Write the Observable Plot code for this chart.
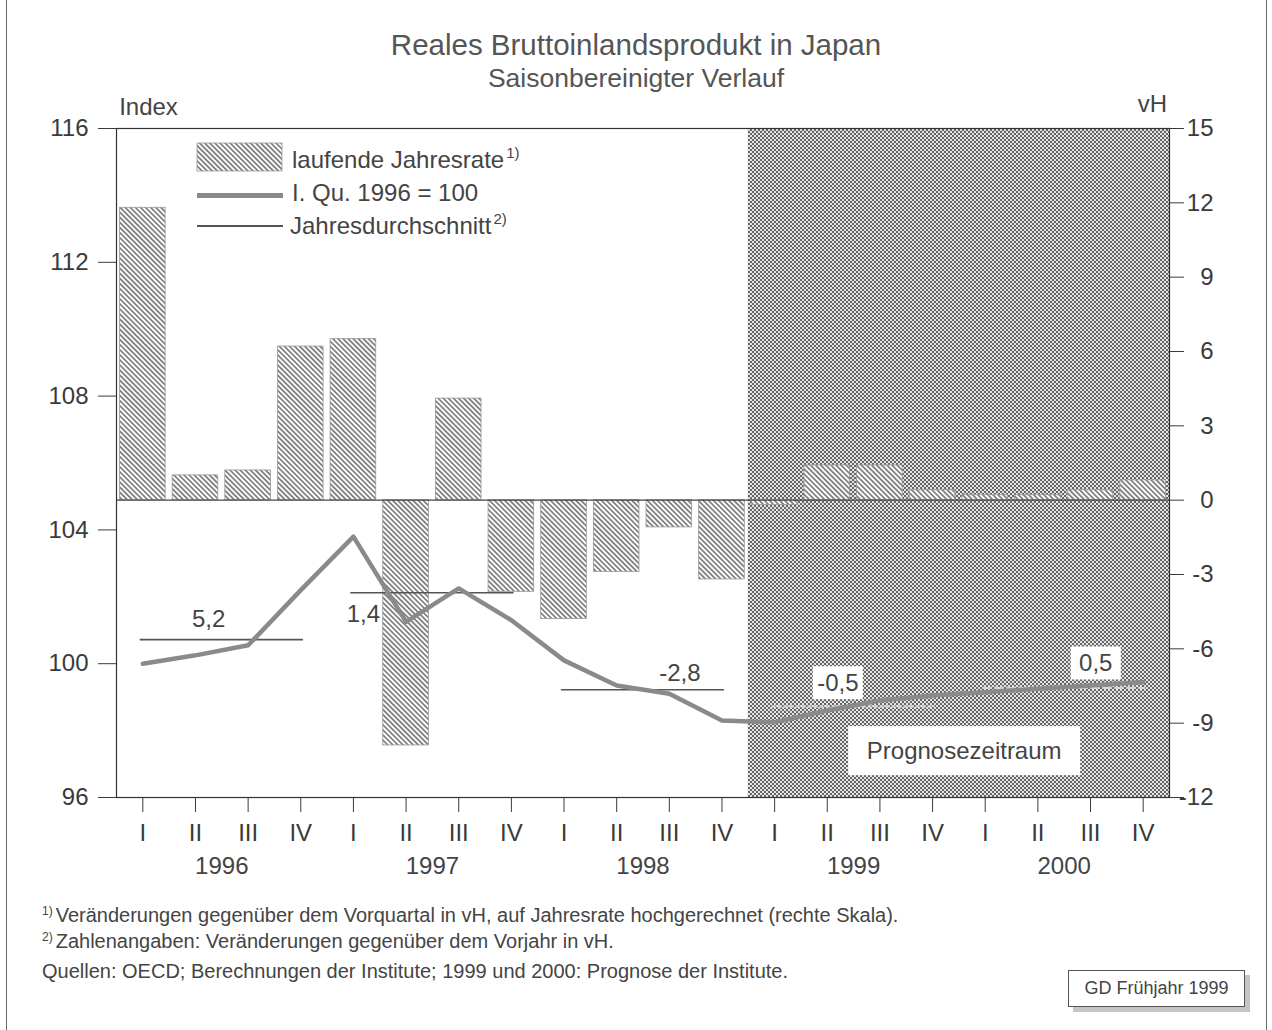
<!DOCTYPE html>
<html><head><meta charset="utf-8">
<script src="https://cdn.jsdelivr.net/npm/d3@7"></script>
<script src="https://cdn.jsdelivr.net/npm/@observablehq/plot@0.6"></script>
<style>
body{margin:0;background:#fff;}
#wrap{position:relative;width:1272px;height:1030px;font-family:"Liberation Sans",Arial,sans-serif;color:#444;overflow:hidden;background:#fff;}
.abs{position:absolute;white-space:nowrap;line-height:1;}
.sup{position:relative;font-size:15px;top:-10px;margin-left:2px;}
.fsup{position:relative;font-size:12px;top:-7px;margin-right:3px;}
</style></head><body>
<div id="wrap">
  <div class="abs" style="left:6px;top:0;width:1261px;height:1030px;border-left:1.5px solid #666;border-right:1.5px solid #666;box-sizing:border-box"></div>
  <div class="abs" style="left:0;width:1272px;text-align:center;top:30px;font-size:29.5px;color:#555">Reales Bruttoinlandsprodukt in Japan</div>
  <div class="abs" style="left:0;width:1272px;text-align:center;top:65px;font-size:26.5px;color:#555">Saisonbereinigter Verlauf</div>
  <div id="chart" class="abs" style="left:0;top:95px"></div>
  <!-- legend -->
  <svg class="abs" style="left:196px;top:142px" width="88" height="31"><rect x="1" y="1" width="85" height="28" fill="url(#hatchL)" stroke="#999" stroke-width="0.8"/>
    <defs><pattern id="hatchL" patternUnits="userSpaceOnUse" width="3.6" height="3.6" patternTransform="rotate(-45)"><rect width="3.6" height="3.6" fill="#fff"/><line x1="1.8" y1="-1" x2="1.8" y2="5" stroke="#333" stroke-width="1.1"/></pattern></defs></svg>
  <div class="abs" style="left:292px;top:148px;font-size:24px">laufende Jahresrate<span class="sup">1)</span></div>
  <div class="abs" style="left:197px;top:193px;width:86px;height:4.5px;background:#8a8a8a"></div>
  <div class="abs" style="left:292px;top:181px;font-size:24px">I. Qu. 1996 = 100</div>
  <div class="abs" style="left:197px;top:225px;width:86px;height:1.6px;background:#555"></div>
  <div class="abs" style="left:290px;top:214px;font-size:24px">Jahresdurchschnitt<span class="sup">2)</span></div>
  <!-- footnotes -->
  <div class="abs" style="left:42px;top:905px;font-size:20px"><span class="fsup">1)</span>Veränderungen gegenüber dem Vorquartal in vH, auf Jahresrate hochgerechnet (rechte Skala).</div>
  <div class="abs" style="left:42px;top:931px;font-size:20px"><span class="fsup">2)</span>Zahlenangaben: Veränderungen gegenüber dem Vorjahr in vH.</div>
  <div class="abs" style="left:42px;top:961px;font-size:20px">Quellen: OECD; Berechnungen der Institute; 1999 und 2000: Prognose der Institute.</div>
  <div class="abs" style="left:1068px;top:970px;width:177px;height:37px;border:1px solid #555;box-sizing:border-box;background:#fff;box-shadow:5px 5px 0 #c4c4c4;font-size:18px;text-align:center;line-height:35px">GD Frühjahr 1999</div>
</div>
<script>
// ---- data ----
const quarterLabels = ["I", "II", "III", "IV"];
const years = [1996, 1997, 1998, 1999, 2000];
// laufende Jahresrate (vH, right scale), 1996 I .. 2000 IV
const rate = [11.8, 1.0, 1.2, 6.2, 6.5, -9.9, 4.1, -3.7, -4.8, -2.9, -1.1, -3.2, -0.2, 1.4, 1.4, 0.4, 0.2, 0.2, 0.4, 0.8];
// Index I. Qu. 1996 = 100 (left scale)
const gdpIndex = [100.0, 100.25, 100.55, 102.2, 103.8, 101.25, 102.25, 101.3, 100.1, 99.35, 99.1, 98.3, 98.25, 98.6, 98.9, 99.05, 99.15, 99.25, 99.35, 99.45];
// Jahresdurchschnitt (index level) and change vs previous year
const annualAvg = [100.72, 102.12, 99.22, 98.72, 99.28];
const annualChange = ["5,2", "1,4", "-2,8", "-0,5", "0,5"];
const forecastStartQuarter = 12; // 1999 I
const indexTicks = [96, 100, 104, 108, 112, 116];
const rateTicks = [-12, -9, -6, -3, 0, 3, 6, 9, 12, 15];

// ---- scales mapping (two y axes) ----
const IDX_MIN = 96, IDX_MAX = 116, R_MIN = -12, R_MAX = 15;
const toRate = v => R_MIN + (v - IDX_MIN) * (R_MAX - R_MIN) / (IDX_MAX - IDX_MIN);
const toIndex = r => IDX_MIN + (r - R_MIN) * (IDX_MAX - IDX_MIN) / (R_MAX - R_MIN);

const Q = rate.map((r, i) => ({i, rate: r, index: gdpIndex[i]}));
const A = years.map((y, k) => ({k, year: y, avg: annualAvg[k], label: annualChange[k], forecast: 4 * k >= forecastStartQuarter}));

// label layout (quarter offset within year, pixel shift)
const labelLayout = [{q: 1.25, dy: -20}, {q: 0.19, dy: 22}, {q: 2.2, dy: -16}, {q: 1.2, dy: -23}, {q: 2.1, dy: -24}];

const font = 24;
const labelMarks = A.map((d, k) => Plot.text([d], {
  x: d => 4 * d.k + labelLayout[k].q,
  y: d => toRate(d.avg),
  text: "label",
  dy: labelLayout[k].dy,
  fontSize: font,
  fill: "#444",
  ariaDescription: d.forecast ? "boxA" : "lbl"
}));

const chart = Plot.plot({
  width: 1272,
  height: 800,
  marginLeft: 116,
  marginRight: 103,
  marginTop: 33,
  marginBottom: 98,
  style: {fontFamily: "'Liberation Sans', Arial, sans-serif", fontSize: "24px", color: "#3a3a3a", background: "transparent", overflow: "visible"},
  x: {type: "linear", domain: [-0.5, 19.5]},
  y: {domain: [R_MIN, R_MAX]},
  marks: [
    Plot.rect([{}], {x1: forecastStartQuarter - 0.5, x2: 19.5, y1: R_MIN, y2: R_MAX, fill: "url(#checker)"}),
    Plot.rect(Q, {x1: d => d.i - 0.5, x2: d => d.i + 0.5, y1: 0, y2: "rate", insetLeft: 3.5, insetRight: 3.5, fill: "url(#hatch)", stroke: "#999", strokeWidth: 0.8}),
    Plot.ruleY([0], {stroke: "#444", strokeWidth: 1.2}),
    Plot.ruleY(A.filter(d => !d.forecast), {y: d => toRate(d.avg), x1: d => 4 * d.k - 0.05, x2: d => 4 * d.k + 3.05, stroke: "#555", strokeWidth: 1.6}),
    Plot.ruleY(A.filter(d => d.forecast), {y: d => toRate(d.avg), x1: d => 4 * d.k - 0.05, x2: d => 4 * d.k + 3.05, stroke: "#d2d2d2", strokeWidth: 2.5, strokeDasharray: "4,2"}),
    Plot.line(Q, {x: "i", y: d => toRate(d.index), stroke: "#8a8a8a", strokeWidth: 4.5, strokeLinejoin: "round"}),
    ...labelMarks,
    Plot.text(["Prognosezeitraum"], {x: (forecastStartQuarter + 19) / 2 + 0.1, frameAnchor: "bottom", lineAnchor: "middle", dy: -46, fontSize: font, fill: "#444", ariaDescription: "boxB"}),
    Plot.frame({stroke: "#333", strokeWidth: 1.2}),
    Plot.axisY({anchor: "left", ticks: indexTicks.map(toRate), tickFormat: r => String(Math.round(toIndex(r))), tickSize: 18, tickPadding: 10, fontSize: font, label: null}),
    Plot.axisY({anchor: "right", ticks: rateTicks, tickFormat: d => String(d), tickSize: 14, tickPadding: 30, textAnchor: "end", fontSize: font, label: null}),
    Plot.axisX({ticks: d3.range(20), tickFormat: i => quarterLabels[i % 4], tickSize: 15, tickPadding: 11, fontSize: font, label: null}),
    Plot.text(years, {x: (d, i) => 4 * i + 1.5, text: d => String(d), frameAnchor: "bottom", lineAnchor: "middle", dy: 69, fontSize: font, fill: "#444"}),
    Plot.text(["Index"], {frameAnchor: "top-left", textAnchor: "middle", lineAnchor: "middle", dx: 32, dy: -21, fontSize: font, fill: "#444"}),
    Plot.text(["vH"], {frameAnchor: "top-right", textAnchor: "middle", lineAnchor: "middle", dx: -17, dy: -24, fontSize: font, fill: "#444"})
  ]
});

document.getElementById("chart").appendChild(chart);

// patterns
const ns = "http://www.w3.org/2000/svg";
const defs = document.createElementNS(ns, "defs");
defs.innerHTML = `
<pattern id="hatch" patternUnits="userSpaceOnUse" width="3.6" height="3.6" patternTransform="rotate(-45)">
  <rect width="3.6" height="3.6" fill="#fff"/>
  <line x1="1.8" y1="-1" x2="1.8" y2="5" stroke="#333" stroke-width="1.1"/>
</pattern>
<pattern id="checker" patternUnits="userSpaceOnUse" width="4" height="4">
  <rect width="4" height="4" fill="#e4e4e4"/>
  <rect width="2" height="2" fill="#666"/>
  <rect x="2" y="2" width="2" height="2" fill="#666"/>
</pattern>`;
chart.insertBefore(defs, chart.firstChild);

// white boxes behind boxed labels
function boxify(desc, w, h) {
  chart.querySelectorAll(`g[aria-description="${desc}"] text`).forEach(t => {
    const b = t.getBBox();
    const cx = b.x + b.width / 2, cy = b.y + b.height / 2;
    const r = document.createElementNS(ns, "rect");
    r.setAttribute("x", cx - w / 2);
    r.setAttribute("y", cy - h / 2);
    r.setAttribute("width", w);
    r.setAttribute("height", h);
    r.setAttribute("fill", "#fff");
    const tr = t.getAttribute("transform");
    if (tr) r.setAttribute("transform", tr);
    t.parentNode.insertBefore(r, t);
  });
}
boxify("boxA", 50, 33);
boxify("boxB", 232, 49);
</script>
</body></html>
